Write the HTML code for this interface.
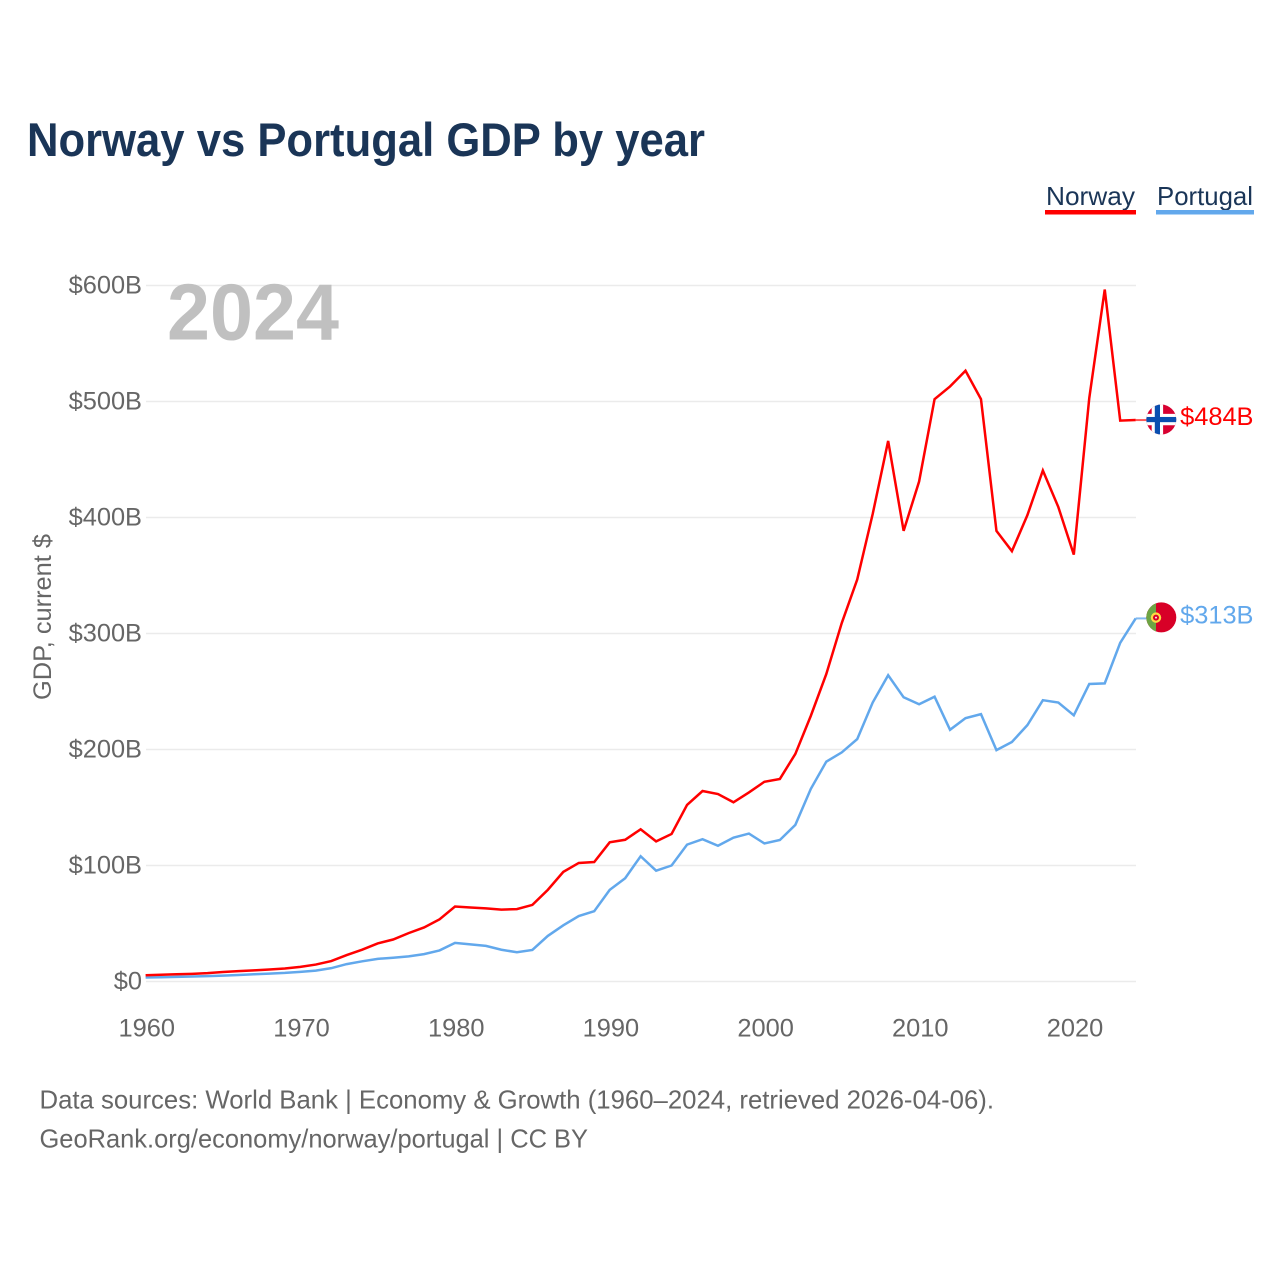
<!DOCTYPE html>
<html lang="en">
<head>
<meta charset="utf-8">
<title>Norway vs Portugal GDP by year</title>
<style>
  html, body { margin: 0; padding: 0; background: #fff; }
  svg { display: block; font-family: "Liberation Sans", sans-serif; }
</style>
</head>
<body>
<svg id="chart" xmlns="http://www.w3.org/2000/svg" width="1280" height="1280" viewBox="0 0 1280 1280">
  <defs>
    <clipPath id="flag-clip"><circle cx="0" cy="0" r="15"></circle></clipPath>
  </defs>
  <rect x="0" y="0" width="1280" height="1280" fill="#ffffff"></rect>
  <text x="27" y="156" font-size="47" font-weight="700" fill="#1a3557" textLength="678" lengthAdjust="spacingAndGlyphs">Norway vs Portugal GDP by year</text>

  <g>
    <g>
      <text x="1046" y="205" font-size="26" fill="#1a3557" textLength="89" lengthAdjust="spacingAndGlyphs">Norway</text>
      <rect x="1045" y="210" width="91" height="4.5" fill="#ff0000"></rect>
    </g>
    <g>
      <text x="1157" y="205" font-size="26" fill="#1a3557" textLength="96" lengthAdjust="spacingAndGlyphs">Portugal</text>
      <rect x="1156" y="210" width="98" height="4.5" fill="#62a8ec"></rect>
    </g>
  </g>

  <g id="grid"></g>
  <text x="167" y="339.5" font-size="80" font-weight="700" fill="#c0c0c0" textLength="172" lengthAdjust="spacingAndGlyphs">2024</text>
  <g id="y-axis"></g>
  <g id="x-axis"></g>
  <text transform="translate(51 617) rotate(-90)" text-anchor="middle" font-size="25" fill="#666666" textLength="166" lengthAdjust="spacingAndGlyphs">GDP, current $</text>
  <g id="series"></g>
  <g id="end-markers"></g>

  <text x="39.5" y="1108.5" font-size="26" fill="#666666" textLength="954.5" lengthAdjust="spacingAndGlyphs">Data sources: World Bank | Economy &amp; Growth (1960–2024, retrieved 2026-04-06).</text>
  <text x="39.5" y="1147.5" font-size="26" fill="#666666" textLength="548.5" lengthAdjust="spacingAndGlyphs">GeoRank.org/economy/norway/portugal | CC BY</text>
</svg>

<script>
const firstYear = 1960;
const norwayValues = [5.4, 5.8, 6.2, 6.6, 7.2, 8.2, 8.9, 9.6, 10.3, 11.2, 12.6, 14.6, 17.6, 22.8, 27.4, 32.8, 36.2, 41.7, 46.6, 53.6, 64.6, 63.8, 63.0, 62.0, 62.4, 66.0, 79.0, 94.5, 102.2, 103.0, 120.0, 122.2, 131.2, 120.8, 127.2, 152.2, 164.2, 161.6, 154.5, 163.0, 172.2, 174.6, 196.2, 229.0, 265.0, 309.0, 346.5, 403.0, 466.0, 388.5, 431.0, 502.0, 513.0, 526.5, 502.0, 388.5, 371.0, 402.0, 440.5, 409.0, 368.0, 503.0, 596.5, 483.5, 484.0];
const portugalValues = [3.4, 3.7, 4.0, 4.3, 4.6, 5.1, 5.6, 6.2, 6.8, 7.4, 8.3, 9.4, 11.5, 15.0, 17.4, 19.5, 20.5, 21.7, 23.6, 26.8, 33.3, 32.0, 30.7, 27.4, 25.2, 27.2, 39.3, 48.4, 56.4, 60.6, 79.0, 89.0, 108.0, 95.5, 100.0, 118.0, 122.7, 117.0, 124.0, 127.5, 119.0, 122.0, 135.0, 166.0, 189.5, 197.5, 209.0, 240.5, 264.0, 245.0, 239.0, 245.5, 217.0, 227.0, 230.5, 199.5, 206.5, 221.0, 242.5, 240.5, 229.5, 256.5, 257.0, 292.0, 313.0];
const yTickValues = [0, 100, 200, 300, 400, 500, 600];
const yTickLabels = ["$0", "$100B", "$200B", "$300B", "$400B", "$500B", "$600B"];
const xTickValues = [1960, 1970, 1980, 1990, 2000, 2010, 2020];
const xTickLabels = ["1960", "1970", "1980", "1990", "2000", "2010", "2020"];
const norwayEndLabel = "$484B";
const portugalEndLabel = "$313B";

const NS = "http://www.w3.org/2000/svg";
function xScale(year) { return 145.6 + (year - 1960) * 15.47; }
function yScale(value) { return 981.5 - value * 1.16; }
function make(tag, attrs, parent) {
  const el = document.createElementNS(NS, tag);
  for (const k in attrs) el.setAttribute(k, attrs[k]);
  parent.appendChild(el);
  return el;
}

const gridGroup = document.getElementById("grid");
const yAxisGroup = document.getElementById("y-axis");
yTickValues.forEach(function (v, i) {
  const line = make("line", { x1: 146, x2: 1136, y1: yScale(v), y2: yScale(v), stroke: "#ebebeb", "stroke-width": 1.5 }, gridGroup);
  
  
  const label = make("text", { x: 142, y: yScale(v) + 8, "text-anchor": "end", "font-size": 25.4, fill: "#666666" }, yAxisGroup);
  
  
  label.textContent = yTickLabels[i];
});

const xAxisGroup = document.getElementById("x-axis");
xTickValues.forEach(function (v, i) {
  const label = make("text", { x: xScale(v) + 1.2, y: 1036.5, "text-anchor": "middle", "font-size": 25.4, fill: "#666666" }, xAxisGroup);
  
  
  label.textContent = xTickLabels[i];
});

function pathFor(values) {
  return values.map(function (v, i) {
    return (i === 0 ? "M" : "L") + xScale(firstYear + i).toFixed(2) + " " + yScale(v).toFixed(2);
  }).join(" ");
}

const seriesGroup = document.getElementById("series");
const portugalLine = make("path", { d: pathFor(portugalValues), fill: "none", stroke: "#62a8ec", "stroke-width": 2.5, "stroke-linejoin": "miter" }, seriesGroup);


const norwayLine = make("path", { d: pathFor(norwayValues), fill: "none", stroke: "#ff0000", "stroke-width": 2.5, "stroke-linejoin": "miter" }, seriesGroup);



const markers = document.getElementById("end-markers");
const lastX = xScale(firstYear + norwayValues.length - 1);

const norwayY = yScale(norwayValues[norwayValues.length - 1]);
const norwayConnector = make("line", { x1: lastX, x2: 1147, y1: norwayY, y2: norwayY, stroke: "#ff0000", "stroke-width": 2, opacity: 0.65 }, markers);


const norwayFlag = make("g", { transform: "translate(1161.3 " + (norwayY - 0.5) + ")", "clip-path": "url(#flag-clip)" }, markers);


make("rect", { x: -16, y: -16, width: 32, height: 32, fill: "#d80031" }, norwayFlag);
make("rect", { x: -16, y: -5.7, width: 32, height: 11.4, fill: "#ffffff" }, norwayFlag);
make("rect", { x: -9.6, y: -16, width: 11.4, height: 32, fill: "#ffffff" }, norwayFlag);
make("rect", { x: -16, y: -2.6, width: 32, height: 5.2, fill: "#0a4fb0" }, norwayFlag);
make("rect", { x: -6.5, y: -16, width: 5.2, height: 32, fill: "#0a4fb0" }, norwayFlag);
const norwayValueLabel = make("text", { x: 1253.5, y: norwayY + 5, "text-anchor": "end", "font-size": 25.4, fill: "#ff0000" }, markers);


norwayValueLabel.textContent = norwayEndLabel;

const portugalY = yScale(portugalValues[portugalValues.length - 1]);
const portugalConnector = make("line", { x1: lastX, x2: 1147, y1: portugalY, y2: portugalY, stroke: "#62a8ec", "stroke-width": 2, opacity: 0.8 }, markers);


const portugalFlag = make("g", { transform: "translate(1161.3 " + (portugalY - 1) + ")", "clip-path": "url(#flag-clip)" }, markers);


make("rect", { x: -16, y: -16, width: 32, height: 32, fill: "#d80027" }, portugalFlag);
make("rect", { x: -16, y: -16, width: 10.7, height: 32, fill: "#6da544" }, portugalFlag);
make("circle", { cx: -5.3, cy: 0.2, r: 5.2, fill: "#ffda44" }, portugalFlag);
make("circle", { cx: -5.3, cy: 0.2, r: 3, fill: "#d80027" }, portugalFlag);
make("circle", { cx: -5.3, cy: 0.2, r: 1, fill: "#f0f0f0" }, portugalFlag);
const portugalValueLabel = make("text", { x: 1253.5, y: portugalY + 5, "text-anchor": "end", "font-size": 25.4, fill: "#62a8ec" }, markers);


portugalValueLabel.textContent = portugalEndLabel;
</script>
</body>
</html>
